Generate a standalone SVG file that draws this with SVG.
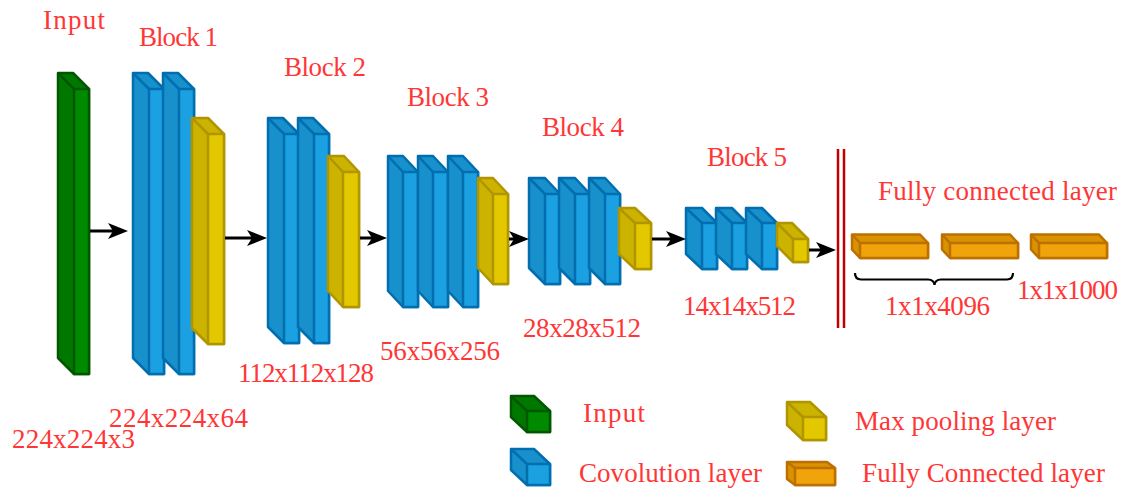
<svg xmlns="http://www.w3.org/2000/svg" width="1123" height="489" viewBox="0 0 1123 489">
<style>
.t{font-family:"Liberation Serif","Times New Roman",serif;font-size:27px;fill:#ff3636}
.g .s{fill:#007800;stroke:#005700}.g .f{fill:#008a00;stroke:#005700}.g line{stroke:#005700}
.b .s{fill:#1890cc;stroke:#006eaf}.b .f{fill:#1ba1e2;stroke:#006eaf}.b line{stroke:#006eaf}
.y .s{fill:#cbb300;stroke:#b09500}.y .f{fill:#e3c800;stroke:#b09500}.y line{stroke:#b09500}
.o .s{fill:#d99200;stroke:#bd7000}.o .f{fill:#f0a30a;stroke:#bd7000}.o line{stroke:#bd7000}
.s,.f,line{stroke-width:2.5;stroke-linejoin:round}
.arr{stroke:#000;stroke-width:3;fill:none;marker-end:url(#ah)}
</style>
<defs>
<marker id="ah" markerUnits="userSpaceOnUse" viewBox="0 0 20 16" refX="11" refY="8" markerWidth="20" markerHeight="16" orient="auto">
<path d="M0,0 L20,8 L0,16 L5,8 Z" fill="#000"/>
</marker>
</defs>
<rect width="1123" height="489" fill="#fff"/>

<g id="input-layer" class="g">
<path class="s" d="M58,73 L73,73 L89,89 L89,374 L74,374 L58,358 Z"/>
<rect class="f" x="74" y="89" width="15" height="285"/>
<line x1="58" y1="73" x2="74" y2="89"/>
</g>

<g id="block1">
<g class="b"><path class="s" d="M133,73 L148,73 L164,89 L164,374 L149,374 L133,358 Z"/><rect class="f" x="149" y="89" width="15" height="285"/><line x1="133" y1="73" x2="149" y2="89"/></g>
<g class="b"><path class="s" d="M163,73 L178,73 L194,89 L194,374 L179,374 L163,358 Z"/><rect class="f" x="179" y="89" width="15" height="285"/><line x1="163" y1="73" x2="179" y2="89"/></g>
<g class="y"><path class="s" d="M192,118 L208,118 L224,134 L224,344 L208,344 L192,328 Z"/><rect class="f" x="208" y="134" width="16" height="210"/><line x1="192" y1="118" x2="208" y2="134"/></g>
</g>

<g id="block2">
<g class="b"><path class="s" d="M268,118 L283,118 L299,134 L299,343 L284,343 L268,327 Z"/><rect class="f" x="284" y="134" width="15" height="209"/><line x1="268" y1="118" x2="284" y2="134"/></g>
<g class="b"><path class="s" d="M298,118 L313,118 L329,134 L329,343 L314,343 L298,327 Z"/><rect class="f" x="314" y="134" width="15" height="209"/><line x1="298" y1="118" x2="314" y2="134"/></g>
<g class="y"><path class="s" d="M328,156 L344,156 L359,172 L359,307 L343,307 L328,291 Z"/><rect class="f" x="343" y="172" width="16" height="135"/><line x1="328" y1="156" x2="343" y2="172"/></g>
</g>

<g id="block3">
<g class="b"><path class="s" d="M388,156 L403,156 L418,172 L418,307 L403,307 L388,291 Z"/><rect class="f" x="403" y="172" width="15" height="135"/><line x1="388" y1="156" x2="403" y2="172"/></g>
<g class="b"><path class="s" d="M418,156 L433,156 L448,172 L448,307 L433,307 L418,291 Z"/><rect class="f" x="433" y="172" width="15" height="135"/><line x1="418" y1="156" x2="433" y2="172"/></g>
<g class="b"><path class="s" d="M448,156 L463,156 L478,172 L478,307 L463,307 L448,291 Z"/><rect class="f" x="463" y="172" width="15" height="135"/><line x1="448" y1="156" x2="463" y2="172"/></g>
<g class="y"><path class="s" d="M478,178 L493,178 L508,194 L508,284 L493,284 L478,268 Z"/><rect class="f" x="493" y="194" width="15" height="90"/><line x1="478" y1="178" x2="493" y2="194"/></g>
</g>

<g id="block4">
<g class="b"><path class="s" d="M529,178 L545,178 L560,194 L560,284 L545,284 L529,268 Z"/><rect class="f" x="545" y="194" width="15" height="90"/><line x1="529" y1="178" x2="545" y2="194"/></g>
<g class="b"><path class="s" d="M559,178 L575,178 L590,194 L590,284 L575,284 L559,268 Z"/><rect class="f" x="575" y="194" width="15" height="90"/><line x1="559" y1="178" x2="575" y2="194"/></g>
<g class="b"><path class="s" d="M589,178 L605,178 L620,194 L620,284 L605,284 L589,268 Z"/><rect class="f" x="605" y="194" width="15" height="90"/><line x1="589" y1="178" x2="605" y2="194"/></g>
<g class="y"><path class="s" d="M619,208 L635,208 L651,223 L651,269 L635,269 L619,254 Z"/><rect class="f" x="635" y="223" width="16" height="46"/><line x1="619" y1="208" x2="635" y2="223"/></g>
</g>

<g id="block5">
<g class="b"><path class="s" d="M686,208 L702,208 L717,223 L717,269 L702,269 L686,254 Z"/><rect class="f" x="702" y="223" width="15" height="46"/><line x1="686" y1="208" x2="702" y2="223"/></g>
<g class="b"><path class="s" d="M716,208 L732,208 L747,223 L747,269 L732,269 L716,254 Z"/><rect class="f" x="732" y="223" width="15" height="46"/><line x1="716" y1="208" x2="732" y2="223"/></g>
<g class="b"><path class="s" d="M746,208 L762,208 L777,223 L777,269 L762,269 L746,254 Z"/><rect class="f" x="762" y="223" width="15" height="46"/><line x1="746" y1="208" x2="762" y2="223"/></g>
<g class="y"><path class="s" d="M777,223 L792,223 L808,239 L808,262 L793,262 L777,246 Z"/><rect class="f" x="793" y="239" width="15" height="23"/><line x1="777" y1="223" x2="793" y2="239"/></g>
</g>

<g id="flatten">
<line x1="838" y1="149" x2="838" y2="328" stroke="#c00000" stroke-width="2.5"/>
<line x1="844" y1="149" x2="844" y2="328" stroke="#c00000" stroke-width="2.5"/>
</g>

<g id="fc1" class="o"><path class="s" d="M852,234.5 L920,234.5 L928,243 L928,258 L860,258 L852,249.5 Z"/><rect class="f" x="860" y="243" width="68" height="15"/><line x1="852" y1="234.5" x2="860" y2="243"/></g>
<g id="fc2" class="o"><path class="s" d="M942,234.5 L1010,234.5 L1018,243 L1018,258 L950,258 L942,249.5 Z"/><rect class="f" x="950" y="243" width="68" height="15"/><line x1="942" y1="234.5" x2="950" y2="243"/></g>
<g id="fc3" class="o"><path class="s" d="M1031,234.5 L1099,234.5 L1107,243 L1107,258 L1039,258 L1031,249.5 Z"/><rect class="f" x="1039" y="243" width="68" height="15"/><line x1="1031" y1="234.5" x2="1039" y2="243"/></g>

<g id="connectors">
<line class="arr" x1="90" y1="231" x2="119" y2="231"/>
<line class="arr" x1="225" y1="238" x2="258" y2="238"/>
<line class="arr" x1="360" y1="238" x2="378" y2="238"/>
<line class="arr" x1="509" y1="239" x2="520" y2="239"/>
<line class="arr" x1="652" y1="239" x2="677" y2="239"/>
<line class="arr" x1="809" y1="250" x2="827" y2="250"/>
<path d="M855,273 Q855,279.5 861,279.5 L928,279.5 Q934,279.5 934.5,285 Q935,279.5 941,279.5 L1007,279.5 Q1013,279.5 1013,273" fill="none" stroke="#000" stroke-width="2.2"/>
</g>

<g id="labels">
<text class="t" x="43" y="29" textLength="62">Input</text>
<text class="t" x="139" y="46" textLength="79">Block 1</text>
<text class="t" x="284" y="76" textLength="82">Block 2</text>
<text class="t" x="407" y="106" textLength="82">Block 3</text>
<text class="t" x="542" y="136" textLength="82">Block 4</text>
<text class="t" x="707" y="166" textLength="80">Block 5</text>
<text class="t" x="878" y="200" textLength="239">Fully connected layer</text>
<text class="t" x="885" y="315" textLength="105">1x1x4096</text>
<text class="t" x="1017" y="299" textLength="101">1x1x1000</text>
<text class="t" x="683" y="315" textLength="113">14x14x512</text>
<text class="t" x="523" y="337" textLength="118">28x28x512</text>
<text class="t" x="380" y="360" textLength="120">56x56x256</text>
<text class="t" x="238" y="382" textLength="136">112x112x128</text>
<text class="t" x="109" y="427" textLength="139">224x224x64</text>
<text class="t" x="12" y="448" textLength="123">224x224x3</text>
</g>

<g id="legend">
<g id="legend-input" class="g"><path class="s" d="M511,396 L534,396 L550,411 L550,432 L527,432 L511,417 Z"/><rect class="f" x="527" y="411" width="23" height="21"/><line x1="511" y1="396" x2="527" y2="411"/></g>
<text class="t" x="583" y="422" textLength="62">Input</text>
<g id="legend-conv" class="b"><path class="s" d="M511,449 L534,449 L550,464 L550,485 L527,485 L511,470 Z"/><rect class="f" x="527" y="464" width="23" height="21"/><line x1="511" y1="449" x2="527" y2="464"/></g>
<text class="t" x="579" y="482" textLength="183">Covolution layer</text>
<g id="legend-pool" class="y"><path class="s" d="M787,402 L810,402 L826,417 L826,440 L803,440 L787,425 Z"/><rect class="f" x="803" y="417" width="23" height="23"/><line x1="787" y1="402" x2="803" y2="417"/></g>
<text class="t" x="855" y="430" textLength="201">Max pooling layer</text>
<g id="legend-fc" class="o"><path class="s" d="M787,462 L827,462 L835,468 L835,485 L795,485 L787,479 Z"/><rect class="f" x="795" y="468" width="40" height="17"/><line x1="787" y1="462" x2="795" y2="468"/></g>
<text class="t" x="862" y="482" textLength="243">Fully Connected layer</text>
</g>
</svg>
